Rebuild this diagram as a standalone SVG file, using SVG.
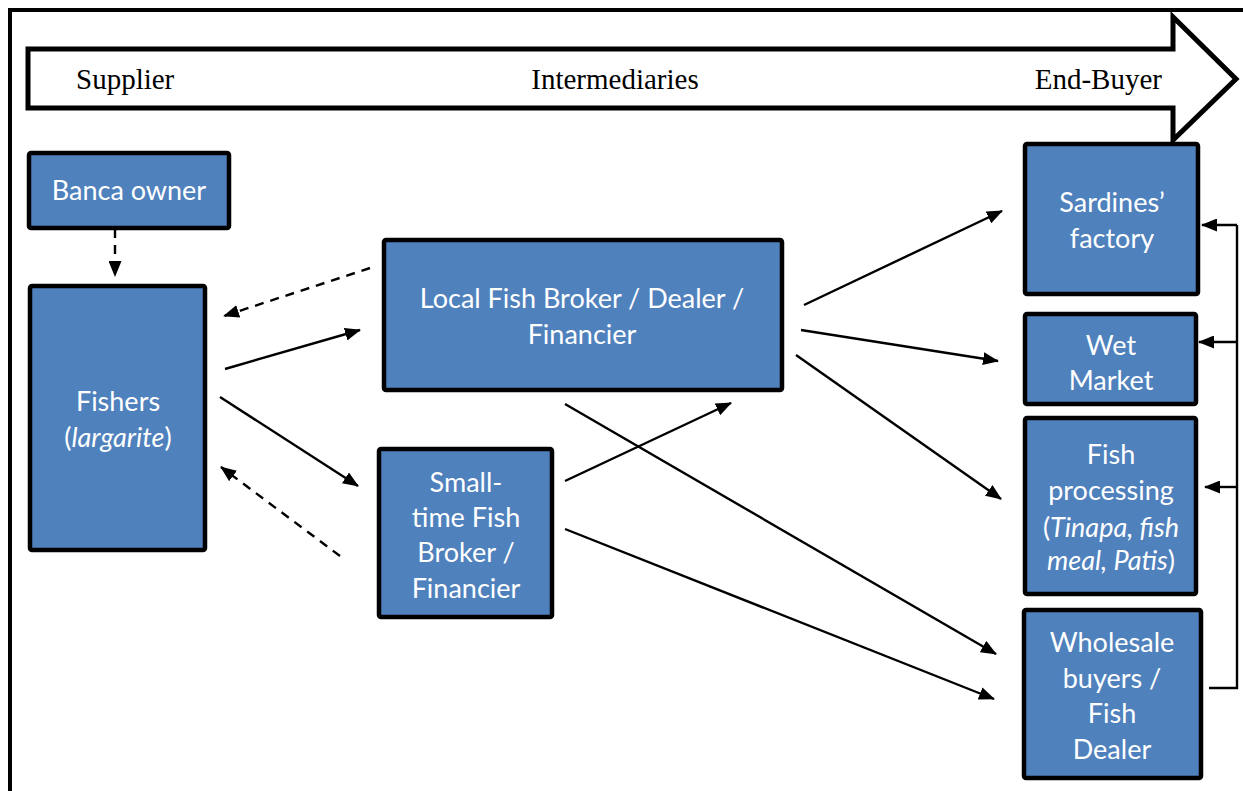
<svg xmlns="http://www.w3.org/2000/svg" width="1243" height="791" viewBox="0 0 1243 791">
<style>
.node rect{fill:#4f81bd;stroke:#000;stroke-width:4.5}
.node text{font-family:Lato,"Open Sans","Liberation Sans",sans-serif;font-size:27px;fill:#fff;text-anchor:middle}
.hdr{font-family:"Liberation Serif",serif;font-size:29px;fill:#000}
.c line,.c path{stroke:#000;stroke-width:2.4;fill:none}
.c .d{stroke-dasharray:9,7}
</style>
<defs>
<marker id="ah" markerWidth="16" markerHeight="13" refX="15" refY="6.5" orient="auto" markerUnits="userSpaceOnUse">
<path d="M0,0 L16,6.5 L0,13 Z" fill="#000"/>
</marker>
</defs>
<rect x="10" y="10" width="1250" height="800" fill="#fff" stroke="#000" stroke-width="4"/>
<g id="header">
<path d="M28,49 H1173 V17 L1236,79 L1173,140 V108 H28 Z" fill="#fff" stroke="#000" stroke-width="5" stroke-linejoin="miter"/>
<text class="hdr" x="76" y="89">Supplier</text>
<text class="hdr" x="615" y="89" text-anchor="middle">Intermediaries</text>
<text class="hdr" x="1162" y="89" text-anchor="end">End-Buyer</text>
</g>
<g class="c" id="connectors">
<line class="d" x1="115" y1="229" x2="115" y2="276" marker-end="url(#ah)"/>
<line class="d" x1="370" y1="268" x2="224" y2="316" marker-end="url(#ah)"/>
<line x1="225" y1="369" x2="360" y2="330" marker-end="url(#ah)"/>
<line x1="220" y1="397" x2="358" y2="486" marker-end="url(#ah)"/>
<line class="d" x1="340" y1="556" x2="221" y2="467" marker-end="url(#ah)"/>
<line x1="565" y1="481" x2="731" y2="403" marker-end="url(#ah)"/>
<line x1="804" y1="305" x2="1002" y2="211" marker-end="url(#ah)"/>
<line x1="801" y1="330" x2="998" y2="361" marker-end="url(#ah)"/>
<line x1="796" y1="355" x2="1001" y2="499" marker-end="url(#ah)"/>
<line x1="565" y1="404" x2="996" y2="654" marker-end="url(#ah)"/>
<line x1="565" y1="529" x2="994" y2="699" marker-end="url(#ah)"/>
<path d="M1209,688 H1237 V225"/>
<line x1="1237" y1="225" x2="1202" y2="225" marker-end="url(#ah)"/>
<line x1="1237" y1="342" x2="1199" y2="342" marker-end="url(#ah)"/>
<line x1="1237" y1="487" x2="1205" y2="487" marker-end="url(#ah)"/>
</g>
<g class="node" id="banca"><rect x="29" y="153" width="200" height="75" rx="2"/><text x="129" y="200">Banca owner</text></g>
<g class="node" id="fishers"><rect x="30" y="286" width="175" height="264" rx="2"/><text x="118" y="411">Fishers</text><text x="118" y="447">(<tspan font-style="italic">largarite</tspan>)</text></g>
<g class="node" id="local"><rect x="384" y="240" width="398" height="150" rx="2"/><text x="582" y="308">Local Fish Broker / Dealer /</text><text x="582" y="344">Financier</text></g>
<g class="node" id="small"><rect x="379" y="449" width="173" height="168" rx="2"/><text x="466" y="492">Small-</text><text x="466" y="527">time Fish</text><text x="466" y="562">Broker /</text><text x="466" y="598">Financier</text></g>
<g class="node" id="sardines"><rect x="1025" y="144" width="173" height="150" rx="2"/><text x="1112" y="212">Sardines’</text><text x="1112" y="248">factory</text></g>
<g class="node" id="wet"><rect x="1025" y="314" width="171" height="90" rx="2"/><text x="1111" y="355">Wet</text><text x="1111" y="390">Market</text></g>
<g class="node" id="processing"><rect x="1025" y="418" width="171" height="176" rx="2"/><text x="1111" y="464">Fish</text><text x="1111" y="500">processing</text><text x="1111" y="537">(<tspan font-style="italic">Tinapa, fish</tspan></text><text x="1111" y="570"><tspan font-style="italic">meal, Patis</tspan>)</text></g>
<g class="node" id="wholesale"><rect x="1024" y="610" width="177" height="168" rx="2"/><text x="1112" y="652">Wholesale</text><text x="1112" y="688">buyers /</text><text x="1112" y="723">Fish</text><text x="1112" y="759">Dealer</text></g>
</svg>
